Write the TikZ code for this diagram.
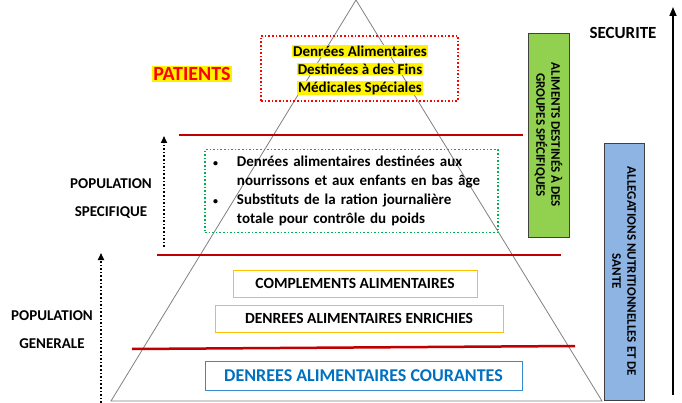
\documentclass[tikz,border=0pt]{standalone}
\usepackage{fontspec}
\setmainfont{Carlito}
\usetikzlibrary{arrows.meta}

\definecolor{bandred}{HTML}{C00000}
\definecolor{gold}{HTML}{FFC000}
\definecolor{dgreen}{HTML}{00B050}
\definecolor{cblue}{HTML}{0070C0}
\definecolor{lgreen}{HTML}{92D050}
\definecolor{lblue}{HTML}{8EB4E3}
\definecolor{frame}{HTML}{404040}

\newcommand{\smallbul}{{\fontsize{10}{10}\selectfont •}}

\tikzset{
  goldbox/.style={draw=gold,thick,font=\bfseries\fontsize{15.5}{19}\selectfont},
  bluebox/.style={draw=cblue!80!white,thick,text=cblue,font=\bfseries\fontsize{18}{21}\selectfont},
  sidebar/.style={draw=frame,thick,rotate=-90,align=center,font=\bfseries\fontsize{13}{15}\selectfont},
  poplabel/.style={align=center},
  dotarrow/.style={dotted,line width=1.6pt,-{Triangle[length=7pt,width=6pt]}}
}

\begin{document}
\begin{tikzpicture}[x=1pt,y=-1pt,font=\bfseries\fontsize{15}{19}\selectfont]
  \useasboundingbox (0,0) rectangle (682,403);

  % pyramid
  \coordinate (top) at (356,0);
  \coordinate (bl) at (111,401);
  \coordinate (br) at (602,401);
  \draw[black!50,line width=0.8pt] (top) -- (bl) -- (br) -- cycle;

  % red bands
  \def \Bands {
    1/179/135/523/135,
    2/157/255/561/255,
    3/132/349/575/346}
  \foreach \id / \xa / \ya / \xb / \yb in \Bands {
    \coordinate (b\id a) at (\xa,\ya);
    \coordinate (b\id b) at (\xb,\yb);
    \draw[bandred,line width=2.5pt] (b\id a) -- (b\id b);
  }

  % top level
  \node[draw=red,dotted,line width=1.6pt,minimum width=197,minimum height=65] (dfms) at (359.5,68.5) {};
  \def \Lines {
    1/51/Denrées Alimentaires,
    2/69/Destinées à des Fins,
    3/88/Médicales Spéciales}
  \foreach \id / \y / \txt in \Lines {
    \node[fill=yellow,inner sep=1pt] (dfms\id) at (360,\y) {\txt};
  }
  \node[fill=yellow,text=red,inner sep=1pt,font=\bfseries\fontsize{20}{24}\selectfont] (pat) at (192,74) {PATIENTS};

  % specific groups
  \node[draw=dgreen,dotted,line width=1.6pt,minimum width=293,minimum height=82,
        text width=277,inner xsep=8pt,align=left] (spec) at (351.5,191) {%
    \begin{tabular}{@{}l@{\hspace{19pt}}l@{}}
      \smallbul & Denrées alimentaires destinées aux\\
                & nourrissons et aux enfants en bas âge\\
      \smallbul & Substituts de la ration journalière\\
                & totale pour contrôle du poids
    \end{tabular}};

  % general products
  \def \Boxes {
    cpl/355/283.5/244/27/goldbox/COMPLEMENTS\ ALIMENTAIRES,
    enr/359/318.5/288/27/goldbox/DENREES ALIMENTAIRES ENRICHIES,
    cour/363.5/375.5/317/29/bluebox/DENREES ALIMENTAIRES COURANTES}
  \foreach \id / \x / \y / \w / \h / \st / \txt in \Boxes {
    \node[\st,minimum width=\w,minimum height=\h] (\id) at (\x,\y) {\txt};
  }

  % populations
  \node[poplabel] (popspec) at (111,199) {POPULATION\\[9pt]SPECIFIQUE};
  \node[poplabel] (popgen) at (52,330) {POPULATION\\[9pt]GENERALE};
  \coordinate (q0) at (164,247);
  \coordinate (q1) at (164,136);
  \coordinate (p0) at (101,403);
  \coordinate (p1) at (101,253);
  \draw[dotarrow] (q0) -- (q1);
  \draw[dotarrow] (p0) -- (p1);

  % side bars
  \node[sidebar,fill=lgreen,minimum width=204,minimum height=41] (agr) at (548.5,135)
    {ALIMENTS DESTINÉS À DES\\GROUPES SPÉCIFIQUES};
  \node[sidebar,fill=lblue,minimum width=257,minimum height=40] (alleg) at (624,271.5)
    {ALLEGATIONS NUTRITIONNELLES ET DE\\SANTE};

  % security
  \node[font=\bfseries\fontsize{17}{20}\selectfont] (sec) at (623,33) {SECURITE};
  \coordinate (s0) at (673,395);
  \coordinate (s1) at (673,7);
  \draw[line width=1.6pt,-{Triangle[length=9pt,width=7pt]}] (s0) -- (s1);
\end{tikzpicture}
\end{document}
